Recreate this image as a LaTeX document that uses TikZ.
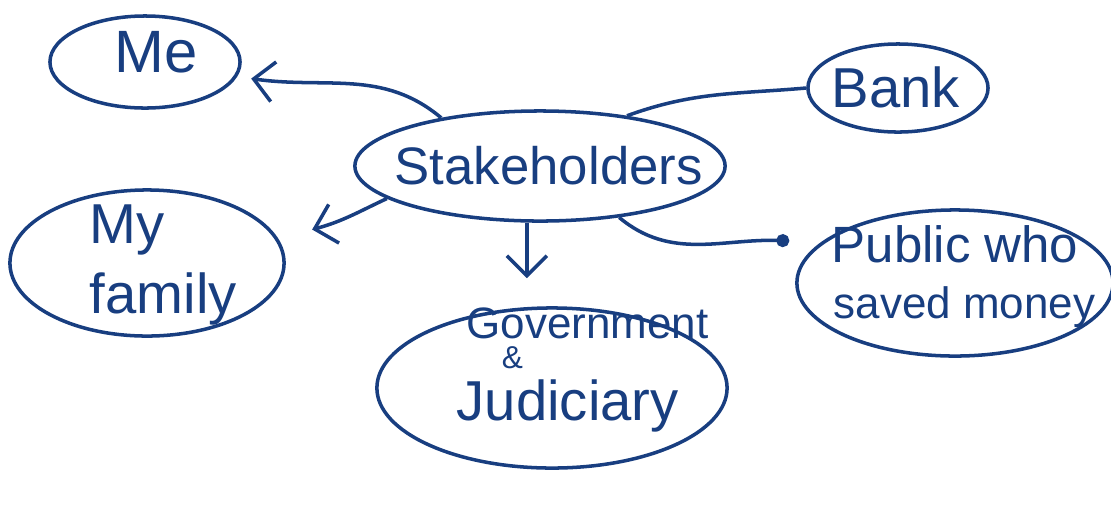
\documentclass[tikz,border=0pt]{standalone}
\usepackage{fontspec}
\setmainfont{Liberation Sans}
\usetikzlibrary{shapes.geometric,arrows.meta}
\definecolor{ink}{RGB}{24,62,128}
\begin{document}
\begin{tikzpicture}[x=0.01cm,y=-0.01cm,
  line width=1pt, color=ink,
  bubble/.style={ellipse, draw=ink, inner sep=0pt, line width=1pt},
  word/.style={anchor=base west, inner sep=0pt, text=ink},
  arr/.style={-{Straight Barb[length=2mm,width=4mm]}},
]
\useasboundingbox (0,0) rectangle (1111,505);

% bubbles
\node[bubble, minimum width=1.9cm,  minimum height=0.92cm] (me)   at (145,62)  {};
\node[bubble, minimum width=3.7cm,  minimum height=1.1cm]  (st)   at (540,166) {};
\node[bubble, minimum width=1.8cm,  minimum height=0.88cm] (bank) at (898,88)  {};
\node[bubble, minimum width=2.74cm, minimum height=1.46cm] (fam)  at (147,263) {};
\node[bubble, minimum width=3.16cm, minimum height=1.46cm] (pub)  at (955,283) {};
\node[bubble, minimum width=3.5cm,  minimum height=1.6cm]  (gov)  at (552,388) {};

% labels
\node[word] (me-t)   at (113,72)  {\fontsize{17pt}{20pt}\selectfont Me};
\node[word] (st-t)   at (393,184) {\fontsize{15pt}{18pt}\selectfont Stakeholders};
\node[word] (bank-t) at (830,107) {\fontsize{16pt}{19pt}\selectfont Bank};
\node[word] (fam-a)  at (88,243)  {\fontsize{16pt}{19pt}\selectfont My};
\node[word] (fam-b)  at (88,313)  {\fontsize{16pt}{19pt}\selectfont family};
\node[word] (pub-a)  at (830,262) {\fontsize{14.5pt}{17pt}\selectfont Public who};
\node[word] (pub-b)  at (832,318) {\fontsize{12.5pt}{15pt}\selectfont saved money};
\node[word] (gov-a)  at (465,338) {\fontsize{12.5pt}{15pt}\selectfont Government};
\node[word] (gov-b)  at (500,368) {\fontsize{9pt}{11pt}\selectfont \&};
\node[word] (gov-c)  at (455,420) {\fontsize{16pt}{19pt}\selectfont Judiciary};

% connectors
\draw[arr] (st.154) to[out=140,in=-8] ([xshift=0.14cm,yshift=-0.02cm]me.-9);
\draw[arr] (st.192) to[out=205,in=15] ([xshift=0.36cm,yshift=0.06cm]fam.12);
\draw[arr, shorten >=0.28cm] (st.257) -- (st.257 |- gov.north);
\draw[-{Circle[length=1.3mm]}] (st.-33) to[out=-40,in=178] ([xshift=-0.27cm,yshift=0.05cm]pub.165);
\draw (bank.west) to[out=185,in=20] (st.30);
\end{tikzpicture}
\end{document}
